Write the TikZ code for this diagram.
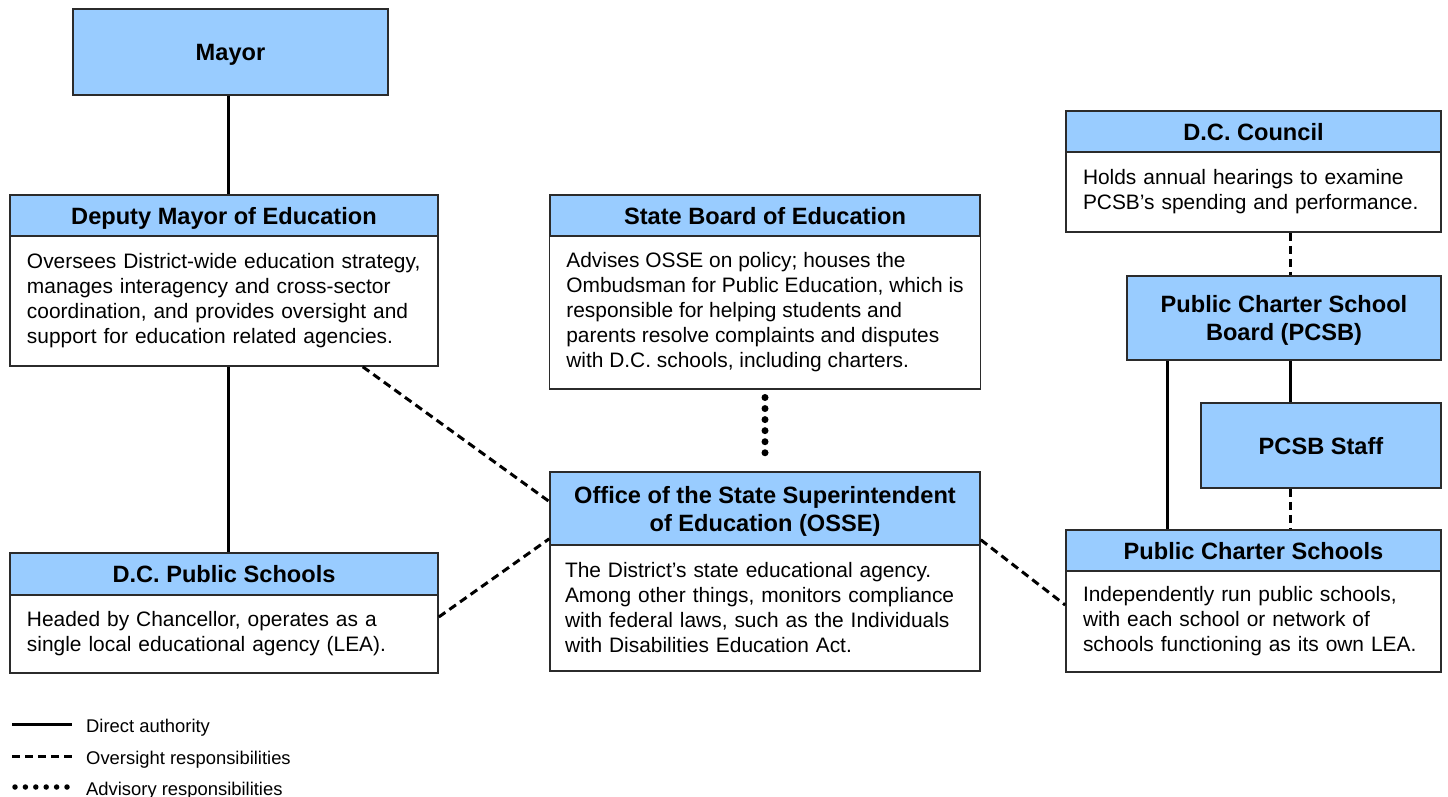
\documentclass[tikz,border=0pt]{standalone}
\usepackage{fontspec}
\setmainfont{Liberation Sans}
\usepackage{xcolor}
\usepackage{tikz}
\definecolor{hdr}{HTML}{99CCFF}
\definecolor{edge}{HTML}{2B2B2B}

\begin{document}
\begin{tikzpicture}[x=1pt,y=-1pt,
  box/.style={draw=edge,line width=1.6pt,inner sep=0pt},
  head/.style={box,fill=hdr,align=center,text depth=0pt,font=\bfseries\fontsize{23.6}{28}\selectfont},
  body/.style={box,fill=white,align=left,inner xsep=17pt,font=\fontsize{20.9}{25}\selectfont},
  legend/.style={anchor=base west,inner sep=0pt,font=\fontsize{18.4}{22}\selectfont},
  direct/.style={line width=3pt},
  oversight/.style={line width=3pt,dash pattern=on 8pt off 5pt},
  advisory/.style={line width=7pt,line cap=round,dash pattern=on 0pt off 11.05pt}]
  \useasboundingbox (0,0) rectangle (1448,797);
  % left column
  \node[head,minimum width=315pt,minimum height=86pt](mayor) at (230.5,52){Mayor};
  \node[head,minimum width=428pt,minimum height=41pt](dmh) at (224,215.5){Deputy Mayor of Education};
  \node[body,text width=394pt,minimum height=130pt](dmb) at (224,301){Oversees District-wide education strategy,\\manages interagency and cross-sector\\coordination, and provides oversight and\\support for education related agencies.};
  \node[head,minimum width=428pt,minimum height=42pt](dcpsh) at (224,574){D.C. Public Schools};
  \node[body,text width=394pt,minimum height=78pt](dcpsb) at (224,634){Headed by Chancellor, operates as a\\single local educational agency (LEA).};
  % middle column
  \node[head,minimum width=430pt,minimum height=41pt](sbeh) at (765,215.5){State Board of Education};
  \node[body,minimum width=430pt,minimum height=153pt](sbeb) at (765,312.5){Advises OSSE on policy; houses the\\Ombudsman for Public Education, which is\\responsible for helping students and\\parents resolve complaints and disputes\\with D.C. schools, including charters.};
  \node[head,minimum width=430pt,minimum height=73pt](osseh) at (765,508.5){Office of the State Superintendent\\of Education (OSSE)};
  \node[body,inner xsep=15pt,text width=400pt,minimum height=126pt](osseb) at (765,608){The District’s state educational agency.\\Among other things, monitors compliance\\with federal laws, such as the Individuals\\with Disabilities Education Act.};
  % right column
  \node[head,minimum width=375pt,minimum height=41pt](dcch) at (1253.5,131.5){D.C. Council};
  \node[body,text width=341pt,minimum height=80pt](dccb) at (1253.5,192){Holds annual hearings to examine\\PCSB’s spending and performance.};
  \node[head,minimum width=314pt,minimum height=84pt](pcsb) at (1284,318){Public Charter School\\Board (PCSB)};
  \node[head,minimum width=240pt,minimum height=85pt](staff) at (1321,445.5){PCSB Staff};
  \node[head,minimum width=375pt,minimum height=41pt](pcsh) at (1253.5,550.5){Public Charter Schools};
  \node[body,text width=341pt,minimum height=101pt](pcsbody) at (1253.5,621.5){Independently run public schools,\\with each school or network of\\schools functioning as its own LEA.};
  \coordinate (mcol) at (228,0);
  \coordinate (lcol) at (1167,0);
  \coordinate (rcol) at (1290,0);
  % connectors
  \draw[direct](mcol|-mayor.south)--(mcol|-dmh.north);
  \draw[direct](mcol|-dmb.south)--(mcol|-dcpsh.north);
  \draw[oversight]([xshift=-76pt]dmb.south east)--([yshift=7pt]osseh.west);
  \draw[oversight]([yshift=17pt]dcpsb.east)--([yshift=7pt]osseh.south west);
  \draw[oversight]([yshift=6pt]osseh.south east)--([yshift=16.5pt]pcsbody.west);
  \draw[advisory,shorten <=7.7pt,shorten >=9pt](sbeb.south)--(osseh.north);
  \draw[oversight](rcol|-dccb.south)--(rcol|-pcsb.north);
  \draw[direct](rcol|-pcsb.south)--(rcol|-staff.north);
  \draw[oversight](rcol|-staff.south)--(rcol|-pcsh.north);
  \draw[direct](lcol|-pcsb.south)--(lcol|-pcsh.north);
  % legend
  \node[legend](lg1) at (86,732){Direct authority};
  \node[legend](lg2) at (86,764){Oversight responsibilities};
  \node[legend](lg3) at (86,795){Advisory responsibilities};
  \draw[direct]([xshift=-74pt,yshift=8pt]lg1.base west)--([xshift=-14pt,yshift=8pt]lg1.base west);
  \draw[oversight]([xshift=-74pt,yshift=8pt]lg2.base west)--([xshift=-14pt,yshift=8pt]lg2.base west);
  \draw[advisory,line width=5.5pt,dash pattern=on 0pt off 10.4pt]([xshift=-71pt,yshift=8pt]lg3.base west)--([xshift=-19pt,yshift=8pt]lg3.base west);
\end{tikzpicture}
\end{document}
